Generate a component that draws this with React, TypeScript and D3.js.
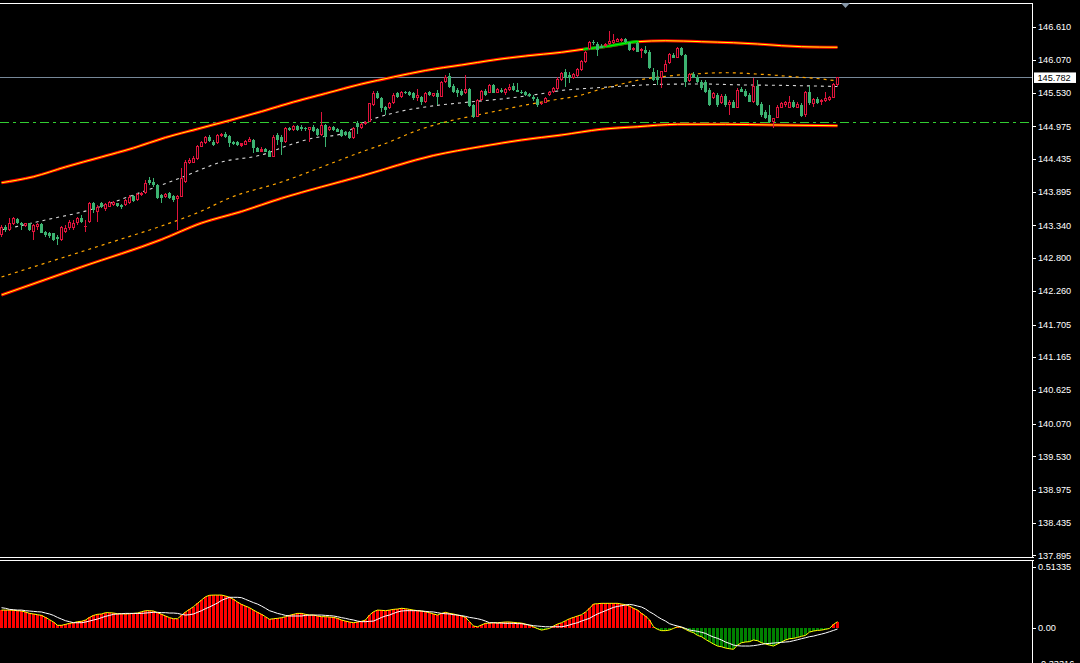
import React from "react";
import * as d3 from "d3";

// ---------- price candles (210 bars) ----------
const opens = [
143.183,143.32,143.265,143.364,143.447,143.375,143.331,143.375,143.238,143.309,
143.364,143.238,143.221,143.21,143.155,143.10,143.238,143.293,143.293,143.375,
143.458,143.309,143.403,143.705,143.568,143.716,143.606,143.65,143.678,143.705,
143.678,143.678,143.705,143.826,143.76,143.843,143.87,144.09,144.063,144.008,
143.843,143.815,143.881,143.826,143.771,143.815,144.063,144.365,144.376,144.431,
144.64,144.695,144.805,144.723,144.695,144.816,144.849,144.816,144.723,144.723,
144.657,144.668,144.723,144.75,144.613,144.558,144.596,144.574,144.475,144.833,
144.805,144.723,144.943,144.915,144.981,144.97,144.948,144.915,144.97,144.926,
144.833,144.998,144.915,144.97,144.926,144.915,144.888,144.888,144.778,145.025,
144.943,145.009,145.053,145.328,145.531,145.438,145.30,145.273,145.355,145.52,
145.454,145.548,145.548,145.531,145.438,145.454,145.383,145.548,145.476,145.531,
145.465,145.713,145.806,145.641,145.575,145.564,145.52,145.586,145.328,145.135,
145.41,145.564,145.531,145.658,145.531,145.575,145.52,145.575,145.641,145.575,
145.548,145.548,145.509,145.465,145.421,145.344,145.366,145.493,145.548,145.586,
145.74,145.867,145.823,145.779,145.812,145.905,146.032,146.252,146.373,146.329,
146.307,146.307,146.329,146.345,146.373,146.384,146.417,146.345,146.235,146.345,
146.219,146.235,146.208,145.878,145.795,145.768,145.878,146.015,146.153,146.109,
146.263,146.153,145.724,145.834,145.795,145.702,145.702,145.575,145.438,145.493,
145.355,145.482,145.328,145.383,145.284,145.592,145.559,145.493,145.371,145.647,
145.338,145.207,145.163,145.052,145.119,145.284,145.328,145.284,145.371,145.284,
145.328,145.163,145.548,145.338,145.427,145.371,145.394,145.41,145.449,145.658,
];
const highs = [
143.348,143.348,143.458,143.474,143.458,143.403,143.386,143.386,143.364,143.386,
143.375,143.254,143.238,143.221,143.183,143.331,143.348,143.43,143.43,143.485,
143.513,143.43,143.733,143.733,143.678,143.733,143.705,143.749,143.749,143.716,
143.694,143.777,143.843,143.843,143.87,143.898,144.09,144.145,144.118,144.024,
143.859,143.881,143.898,143.843,143.843,144.283,144.42,144.448,144.486,144.668,
144.739,144.816,144.833,144.75,144.849,144.871,144.888,144.833,144.739,144.739,
144.706,144.75,144.794,144.767,144.64,144.629,144.613,144.585,144.833,144.871,
144.833,144.97,144.97,144.998,144.998,144.998,144.97,144.97,144.992,144.943,
145.218,145.014,144.981,144.987,144.943,144.932,144.904,144.904,144.97,145.064,
145.025,145.064,145.366,145.564,145.564,145.454,145.317,145.383,145.52,145.548,
145.564,145.564,145.564,145.548,145.586,145.476,145.548,145.564,145.531,145.575,
145.729,145.823,145.861,145.674,145.603,145.586,145.823,145.603,145.344,145.421,
145.575,145.586,145.674,145.674,145.603,145.603,145.603,145.674,145.696,145.685,
145.575,145.564,145.531,145.493,145.454,145.383,145.454,145.564,145.619,145.784,
145.878,145.922,145.878,145.85,145.944,146.07,146.219,146.384,146.40,146.362,
146.329,146.345,146.549,146.494,146.439,146.439,146.439,146.373,146.29,146.373,
146.274,146.307,146.235,145.944,145.905,145.889,146.07,146.18,146.18,146.29,
146.29,146.164,145.85,145.878,145.823,145.74,145.74,145.603,145.548,145.52,
145.509,145.509,145.41,145.41,145.603,145.63,145.592,145.52,145.768,145.74,
145.371,145.245,145.328,145.119,145.328,145.371,145.394,145.482,145.41,145.383,
145.355,145.559,145.641,145.449,145.465,145.427,145.548,145.482,145.685,145.795,
];
const lows = [
143.155,143.238,143.254,143.348,143.364,143.265,143.309,143.254,143.10,143.265,
143.21,143.155,143.128,143.089,143.018,143.089,143.21,143.265,143.265,143.348,
143.375,143.238,143.386,143.54,143.403,143.623,143.584,143.639,143.661,143.65,
143.606,143.661,143.694,143.733,143.749,143.826,143.859,144.008,143.98,143.777,
143.705,143.788,143.771,143.733,143.265,143.804,144.035,144.354,144.365,144.42,
144.629,144.684,144.723,144.651,144.684,144.805,144.778,144.64,144.668,144.651,
144.64,144.662,144.712,144.53,144.547,144.547,144.547,144.464,144.464,144.668,
144.503,144.706,144.904,144.904,144.904,144.904,144.904,144.723,144.888,144.816,
144.816,144.64,144.904,144.904,144.877,144.805,144.816,144.761,144.761,144.849,
144.932,144.998,145.042,145.317,145.421,145.218,145.163,145.256,145.344,145.438,
145.438,145.509,145.476,145.41,145.399,145.328,145.366,145.476,145.465,145.328,
145.454,145.696,145.603,145.52,145.465,145.476,145.504,145.289,145.108,145.124,
145.399,145.476,145.52,145.52,145.52,145.52,145.493,145.564,145.564,145.537,
145.509,145.476,145.454,145.399,145.30,145.328,145.355,145.476,145.531,145.575,
145.724,145.63,145.685,145.757,145.795,145.889,146.015,146.235,146.318,146.142,
146.263,146.29,146.318,146.329,146.362,146.373,146.345,146.219,146.219,146.197,
146.098,146.164,145.922,145.724,145.658,145.603,145.867,145.999,146.098,146.098,
146.142,145.63,145.713,145.768,145.685,145.575,145.52,145.316,145.427,145.30,
145.338,145.30,145.163,145.273,145.273,145.537,145.465,145.371,145.355,145.316,
145.135,145.096,145.025,144.942,145.107,145.273,145.30,145.273,145.284,145.273,
145.135,145.135,145.328,145.30,145.338,145.328,145.371,145.394,145.438,145.647,
];
const closes = [
143.32,143.265,143.375,143.458,143.375,143.353,143.375,143.265,143.348,143.364,
143.221,143.183,143.166,143.10,143.111,143.32,143.293,143.403,143.375,143.458,
143.403,143.331,143.705,143.595,143.65,143.639,143.694,143.733,143.733,143.661,
143.639,143.76,143.815,143.749,143.859,143.881,144.035,144.035,144.008,143.788,
143.788,143.859,143.788,143.76,143.826,144.118,144.393,144.42,144.448,144.651,
144.723,144.794,144.739,144.668,144.833,144.849,144.794,144.706,144.684,144.668,
144.695,144.739,144.767,144.613,144.558,144.596,144.558,144.475,144.805,144.75,
144.723,144.943,144.915,144.981,144.915,144.926,144.937,144.959,144.899,144.833,
144.998,144.805,144.97,144.915,144.888,144.816,144.833,144.778,144.943,144.97,
145.014,145.053,145.355,145.531,145.438,145.273,145.245,145.366,145.493,145.465,
145.548,145.52,145.493,145.438,145.493,145.383,145.531,145.493,145.52,145.465,
145.713,145.784,145.63,145.548,145.52,145.493,145.586,145.311,145.124,145.41,
145.564,145.493,145.658,145.531,145.586,145.548,145.586,145.63,145.575,145.548,
145.52,145.493,145.476,145.421,145.328,145.366,145.438,145.548,145.603,145.751,
145.85,145.768,145.768,145.834,145.922,146.054,146.197,146.362,146.345,146.235,
146.274,146.329,146.384,146.40,146.417,146.417,146.362,146.235,146.274,146.208,
146.252,146.18,145.944,145.74,145.74,145.889,145.999,146.164,146.109,146.274,
146.153,145.713,145.834,145.779,145.702,145.603,145.548,145.328,145.52,145.328,
145.482,145.328,145.371,145.284,145.575,145.548,145.482,145.383,145.641,145.328,
145.163,145.119,145.052,145.119,145.30,145.355,145.371,145.383,145.30,145.338,
145.152,145.548,145.355,145.427,145.355,145.41,145.438,145.465,145.669,145.782,
];

// ---------- channel / average lines (sampled at bar indices) ----------
const upperIdx = [0,8,16,25,33,41,49,57,65,73,81,90,98,106,115,123,131,140,146,152,159,166,175,183,189,195,200,209];
const upperVal = [144.045,144.144,144.305,144.47,144.618,144.791,144.932,145.072,145.22,145.377,145.517,145.674,145.79,145.897,145.988,146.07,146.136,146.197,146.252,146.301,146.372,146.388,146.372,146.355,146.334,146.306,146.29,146.28];
const lowerIdx = [0,20,40,50,60,70,90,108,120,130,140,150,159,169,181,193,209];
const lowerVal = [142.193,142.655,143.108,143.38,143.57,143.788,144.156,144.494,144.643,144.75,144.833,144.927,144.969,145.009,145.009,144.998,144.986];
const orangeIdx = [0,15,30,40,50,57,70,84,91,95,105,111,119,125,131,138,144,150,155,160,165,173,181,190,198,205,209];
const orangeVal = [142.49,142.803,143.117,143.331,143.578,143.793,144.057,144.404,144.577,144.668,144.932,145.047,145.163,145.245,145.328,145.41,145.476,145.592,145.674,145.748,145.794,145.839,145.86,145.834,145.794,145.757,145.724];
const grayIdx = [0,11,22,33,45,55,65,72,78,85,90,98,106,117,125,133,140,148,156,165,175,186,195,203,209];
const grayVal = [143.265,143.43,143.595,143.843,144.131,144.387,144.503,144.668,144.783,144.849,145.022,145.196,145.295,145.377,145.427,145.493,145.567,145.608,145.641,145.669,145.674,145.658,145.652,145.641,145.633];
const touchStart = 146;
const touchEnd = 159;

const currentPrice = 145.782;
const levelPrice = 145.048;

// ---------- MACD ----------
const macdHist = [
0.149,0.149,0.149,0.147,0.144,0.141,0.133,0.121,0.116,0.110,
0.104,0.087,0.068,0.048,0.020,0.020,0.028,0.037,0.042,0.051,
0.054,0.065,0.087,0.104,0.113,0.116,0.127,0.127,0.124,0.118,
0.118,0.116,0.118,0.121,0.124,0.135,0.144,0.144,0.141,0.127,
0.113,0.099,0.085,0.076,0.076,0.104,0.133,0.155,0.178,0.206,
0.234,0.262,0.274,0.276,0.276,0.276,0.268,0.257,0.240,0.217,
0.197,0.183,0.169,0.149,0.130,0.113,0.093,0.071,0.076,0.079,
0.085,0.093,0.104,0.113,0.121,0.121,0.113,0.107,0.107,0.099,
0.093,0.093,0.090,0.087,0.079,0.065,0.056,0.048,0.042,0.048,
0.054,0.065,0.107,0.135,0.149,0.147,0.144,0.149,0.155,0.158,
0.164,0.161,0.155,0.149,0.144,0.141,0.135,0.127,0.116,0.107,
0.121,0.130,0.121,0.116,0.107,0.099,0.087,0.051,0.014,0.008,
0.023,0.037,0.039,0.042,0.042,0.045,0.048,0.048,0.045,0.042,
0.039,0.031,0.020,0.008,-0.008,-0.020,-0.014,-0.006,0.014,0.031,
0.042,0.059,0.076,0.087,0.099,0.110,0.133,0.164,0.200,0.203,
0.206,0.206,0.206,0.206,0.206,0.200,0.195,0.183,0.164,0.149,
0.121,0.099,0.065,0.008,-0.014,-0.025,-0.025,-0.020,-0.006,0.008,
0.003,-0.014,-0.031,-0.042,-0.065,-0.076,-0.099,-0.118,-0.138,-0.155,
-0.161,-0.172,-0.178,-0.183,-0.147,-0.127,-0.121,-0.118,-0.104,-0.110,
-0.127,-0.138,-0.147,-0.155,-0.138,-0.121,-0.104,-0.093,-0.090,-0.082,
-0.073,-0.065,-0.037,-0.028,-0.023,-0.020,-0.014,-0.006,0.028,0.051,
];
const macdSignal = [
0.169,0.164,0.155,0.152,0.149,0.149,0.144,0.141,0.138,0.135,
0.133,0.124,0.116,0.104,0.087,0.073,0.059,0.051,0.042,0.042,
0.042,0.048,0.056,0.065,0.073,0.085,0.096,0.104,0.113,0.116,
0.118,0.121,0.121,0.121,0.121,0.121,0.124,0.127,0.130,0.130,
0.127,0.127,0.124,0.124,0.121,0.113,0.107,0.110,0.116,0.130,
0.144,0.161,0.175,0.192,0.209,0.231,0.245,0.257,0.257,0.257,
0.254,0.240,0.226,0.212,0.200,0.183,0.164,0.144,0.133,0.121,
0.113,0.104,0.099,0.099,0.099,0.099,0.104,0.107,0.107,0.107,
0.107,0.104,0.102,0.099,0.093,0.085,0.079,0.071,0.065,0.056,
0.051,0.051,0.054,0.056,0.071,0.087,0.099,0.107,0.121,0.133,
0.141,0.144,0.144,0.144,0.144,0.141,0.138,0.135,0.133,0.127,
0.121,0.118,0.116,0.110,0.107,0.102,0.096,0.087,0.082,0.076,
0.068,0.056,0.042,0.042,0.039,0.039,0.037,0.037,0.037,0.034,
0.034,0.028,0.023,0.017,0.014,0.011,0.008,0.008,0.008,0.008,
0.008,0.014,0.023,0.034,0.042,0.056,0.068,0.079,0.099,0.116,
0.130,0.144,0.158,0.172,0.180,0.186,0.192,0.197,0.192,0.183,
0.175,0.158,0.135,0.116,0.093,0.073,0.056,0.034,0.023,0.014,
0.006,-0.006,-0.020,-0.025,-0.031,-0.039,-0.048,-0.065,-0.079,-0.090,
-0.104,-0.121,-0.133,-0.147,-0.152,-0.155,-0.155,-0.155,-0.152,-0.147,
-0.141,-0.135,-0.133,-0.130,-0.127,-0.124,-0.121,-0.118,-0.110,-0.102,
-0.093,-0.085,-0.076,-0.071,-0.062,-0.054,-0.045,-0.034,-0.023,-0.011,
];

// ---------- axis ticks ----------
const priceTicks = [146.61,146.07,145.53,144.975,144.435,143.895,143.34,142.8,142.26,141.705,141.165,140.625,140.07,139.53,138.975,138.435,137.895];
const macdTicks = [0.51335, 0, -0.33316];
const macdTickLabels = ["0.51335", "0.00", "-0.33316"];

const W = 1080;
const H = 663;
const AX = 1032.5;
const FONT = "'Liberation Sans', Arial, sans-serif";
const UP = "#E0143C";
const DOWN = "#3CB371";

export default function App() {
  const n = closes.length;
  const x = d3.scaleLinear().domain([0, n - 1]).range([1.5, 837.5]);
  const y = d3.scaleLinear().domain([137.895, 146.61]).range([555.45, 27.27]);
  const ym = d3.scaleLinear().domain([0, 0.51335]).range([627.7, 567]);
  const crisp = (v: number) => Math.round(v) + 0.5;

  const curve = (idx: number[], vals: number[]) =>
    d3.line<number>().x((_, k) => x(idx[k])).y((v) => y(v)).curve(d3.curveMonotoneX)(vals) || "";

  const upperPath = curve(upperIdx, upperVal);
  const lowerPath = curve(lowerIdx, lowerVal);
  const orangePath = curve(orangeIdx, orangeVal);
  const grayPath = curve(grayIdx, grayVal);

  const histLine = d3.line<number>().x((_, i) => x(i)).y((v) => ym(v))(macdHist) || "";
  const sigLine = d3.line<number>().x((_, i) => x(i)).y((v) => ym(v))(macdSignal) || "";

  const candles = closes.map((c, i) => {
    const o = opens[i];
    const cx = x(i);
    const up = c >= o;
    const col = up ? UP : DOWN;
    const top = y(Math.max(o, c));
    const bot = y(Math.min(o, c));
    const h = Math.max(1, bot - top);
    return (
      <g key={i}>
        <line x1={cx} x2={cx} y1={y(highs[i])} y2={y(lows[i])} stroke={col} strokeWidth={1} />
        {up && h > 2.5 ? (
          <rect x={cx - 1} y={top + 0.5} width={2} height={h - 1} fill="#000" stroke={col} strokeWidth={1} />
        ) : (
          <rect x={cx - 1.5} y={top} width={3} height={h} fill={col} />
        )}
      </g>
    );
  });

  const bars = macdHist.map((v, i) => {
    const cx = x(i);
    const y0 = ym(0);
    const y1 = ym(v);
    return (
      <rect key={i} x={cx - 1.5} width={3} y={Math.min(y0, y1)} height={Math.max(0.5, Math.abs(y1 - y0))}
        fill={v >= 0 ? "#FF0000" : "#008000"} />
    );
  });

  const cpY = y(currentPrice);
  const lvY = crisp(y(levelPrice));
  const cpLine = crisp(cpY);

  return (
    <div style={{ position: "fixed", left: 0, top: 0, width: W, height: H, background: "#000" }}>
      <svg width={W} height={H} style={{ display: "block" }}>
        <defs>
          <clipPath id="mainClip"><rect x={0} y={4} width={AX} height={553} /></clipPath>
          <clipPath id="macdClip"><rect x={0} y={561} width={AX} height={H - 561} /></clipPath>
          <clipPath id="touchClip">
            <rect x={x(touchStart) - 2} y={0} width={x(touchEnd) - x(touchStart) + 3} height={557} />
          </clipPath>
        </defs>
        <rect x={0} y={0} width={W} height={H} fill="#000" />

        <g clipPath="url(#mainClip)">
          {/* horizontal levels */}
          <line x1={0} x2={AX} y1={cpLine} y2={cpLine} stroke="#778899" strokeWidth={1} shapeRendering="crispEdges" />
          <line x1={0} x2={AX} y1={lvY} y2={lvY} stroke="#32CD32" strokeWidth={1} strokeDasharray="9,4,3,4" shapeRendering="crispEdges" />

          {/* channel */}
          <path d={upperPath} fill="none" stroke="#FF0000" strokeWidth={3} />
          <path d={upperPath} fill="none" stroke="#FFFF00" strokeWidth={1} />
          <g clipPath="url(#touchClip)">
            <path d={upperPath} fill="none" stroke="#00A000" strokeWidth={3.2} />
            <path d={upperPath} fill="none" stroke="#00FF00" strokeWidth={1.2} />
          </g>
          <path d={lowerPath} fill="none" stroke="#FF0000" strokeWidth={3} />
          <path d={lowerPath} fill="none" stroke="#FFFF00" strokeWidth={1} />
          <path d={orangePath} fill="none" stroke="#FFA500" strokeWidth={1.2} strokeDasharray="3,4" />
          <path d={grayPath} fill="none" stroke="#D8D8D8" strokeWidth={1.1} strokeDasharray="3,4" />

          <g shapeRendering="crispEdges">{candles}</g>
        </g>

        <g clipPath="url(#macdClip)">
          <g shapeRendering="crispEdges">{bars}</g>
          <path d={histLine} fill="none" stroke="#FFFF00" strokeWidth={1} />
          <path d={sigLine} fill="none" stroke="#FFFFFF" strokeWidth={1} />
        </g>

        {/* frame */}
        <g shapeRendering="crispEdges" stroke="#FFFFFF" strokeWidth={1}>
          <line x1={0} x2={AX} y1={3.5} y2={3.5} />
          <line x1={AX} x2={AX} y1={3} y2={557.5} />
          <line x1={0} x2={AX + 1} y1={557.5} y2={557.5} />
          <line x1={0} x2={AX + 1} y1={560.5} y2={560.5} />
          <line x1={AX} x2={AX} y1={560.5} y2={H} />
        </g>
        <polygon points="841,3 850,3 845.5,8" fill="#8899AA" />

        {/* price axis */}
        {priceTicks.map((t) => (
          <g key={t}>
            <line x1={AX} x2={AX + 3.5} y1={crisp(y(t))} y2={crisp(y(t))} stroke="#FFFFFF" strokeWidth={1} shapeRendering="crispEdges" />
            <text x={1038} y={y(t)} dy="0.35em" fill="#FFFFFF" fontFamily={FONT} fontSize={9.2}>
              {t.toFixed(3)}
            </text>
          </g>
        ))}
        <rect x={1034} y={cpY - 5} width={42} height={10.5} fill="#FFFFFF" />
        <text x={1037.5} y={cpY} dy="0.36em" fill="#000000" fontFamily={FONT} fontSize={9.2}>
          {currentPrice.toFixed(3)}
        </text>

        {/* MACD axis */}
        {macdTicks.map((t, k) => {
          const ty = k === 2 ? ym(t) - 3.5 : ym(t);
          return (
            <g key={t}>
              <line x1={AX} x2={AX + 3.5} y1={crisp(ty)} y2={crisp(ty)} stroke="#FFFFFF" strokeWidth={1} shapeRendering="crispEdges" />
              <text x={1038} y={ty} dy="0.35em" fill="#FFFFFF" fontFamily={FONT} fontSize={9.2}>
                {macdTickLabels[k]}
              </text>
            </g>
          );
        })}
      </svg>
    </div>
  );
}
